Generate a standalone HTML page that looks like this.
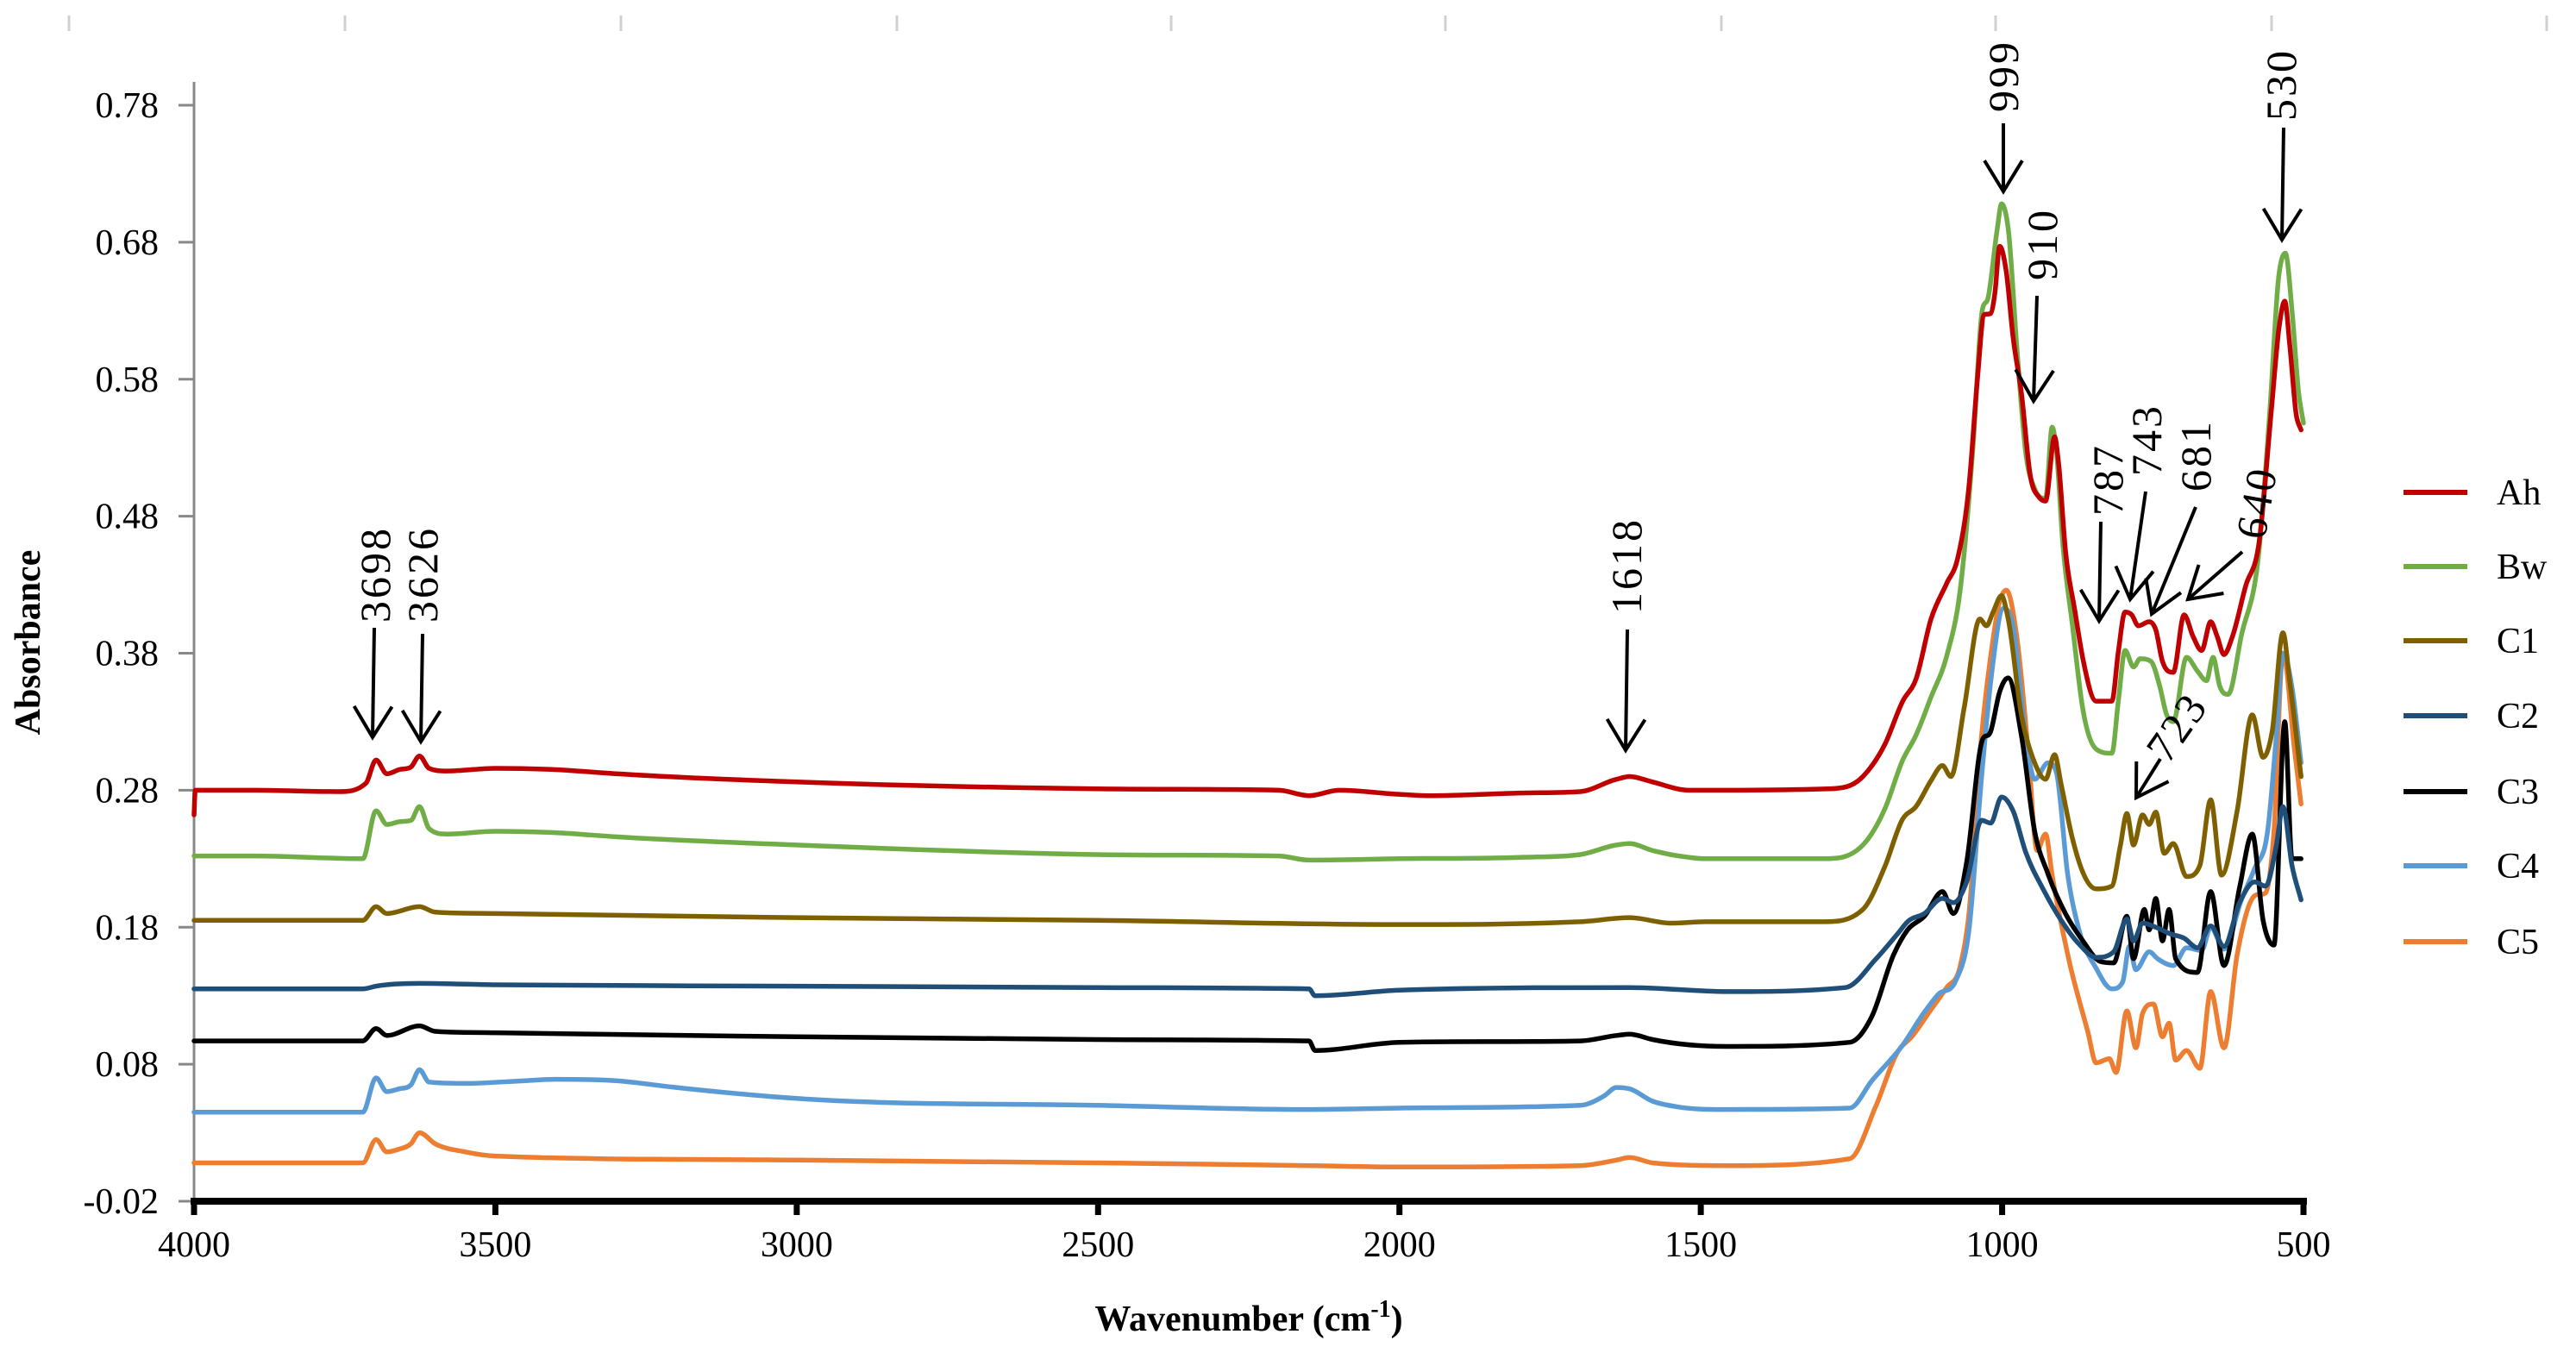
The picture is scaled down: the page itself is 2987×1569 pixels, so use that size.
<!DOCTYPE html>
<html><head><meta charset="utf-8"><style>
html,body{margin:0;padding:0;background:#fff;}
svg{display:block;}
text{font-family:"Liberation Serif","Times New Roman",serif;}
</style></head><body>
<svg id="chart" width="2987" height="1569" viewBox="0 0 2987 1569" xmlns="http://www.w3.org/2000/svg" font-family="Liberation Serif, serif">
<g id="topmarks"></g>
<g id="axes"></g>
<g id="series"></g>
<g id="annot"></g>
<g id="legend"></g>
</svg>
<script>
const seriesNames = ["Ah","Bw","C1","C2","C3","C4","C5"];
const seriesColors = ["#c00000","#70ad47","#7f6000","#1f4e79","#000000","#5b9bd5","#ed7d31"];
const xTicks = [4000,3500,3000,2500,2000,1500,1000,500];
const yTicks = [-0.02,0.08,0.18,0.28,0.38,0.48,0.58,0.68,0.78];
const yTickLabels = ["-0.02","0.08","0.18","0.28","0.38","0.48","0.58","0.68","0.78"];

const wnAh = [4000,3998,3900,3760,3715,3698,3680,3660,3640,3626,3610,3580,3500,3400,3300,3000,2500,2200,2150,2100,2000,1950,1800,1700,1640,1618,1580,1520,1493,1289,1231,1194,1165,1143,1118,1092,1074,1055,1041,1030,1019,1012,1004,993,982,968,953,939,928,913,906,895,880,866,844,818,807,796,785,774,756,745,734,716,698,683,669,654,643,632,618,596,574,552,541,531,523,512,504];
const abAh = [0.262,0.280,0.280,0.279,0.285,0.302,0.292,0.295,0.297,0.305,0.296,0.294,0.296,0.295,0.292,0.286,0.281,0.280,0.276,0.280,0.277,0.276,0.278,0.279,0.288,0.290,0.286,0.280,0.280,0.281,0.290,0.314,0.345,0.361,0.405,0.431,0.449,0.502,0.580,0.627,0.628,0.643,0.677,0.658,0.611,0.570,0.509,0.494,0.491,0.538,0.517,0.455,0.413,0.376,0.345,0.345,0.382,0.410,0.408,0.400,0.403,0.397,0.374,0.366,0.408,0.392,0.382,0.403,0.392,0.379,0.392,0.429,0.460,0.564,0.616,0.637,0.606,0.554,0.543];

const wnBw = [4000,3900,3720,3698,3680,3660,3640,3626,3610,3580,3500,3400,3300,3000,2500,2200,2150,2000,1800,1700,1640,1618,1580,1520,1493,1296,1231,1194,1165,1143,1118,1092,1070,1048,1034,1023,1008,1001,990,975,961,946,928,917,910,899,884,866,844,818,807,796,782,771,753,738,727,716,694,676,661,650,639,625,603,574,556,541,530,519,508,500];
const abBw = [0.232,0.232,0.230,0.265,0.255,0.257,0.258,0.268,0.252,0.248,0.250,0.249,0.246,0.240,0.233,0.232,0.229,0.230,0.231,0.233,0.240,0.241,0.236,0.231,0.230,0.230,0.240,0.267,0.302,0.320,0.348,0.378,0.425,0.533,0.627,0.640,0.690,0.708,0.690,0.600,0.527,0.500,0.493,0.545,0.528,0.458,0.403,0.339,0.310,0.307,0.346,0.382,0.370,0.376,0.374,0.355,0.335,0.330,0.377,0.367,0.360,0.377,0.356,0.350,0.393,0.454,0.556,0.655,0.672,0.630,0.570,0.548];

const wnC1 = [4000,3720,3698,3680,3626,3600,3500,3000,2500,2000,1700,1618,1550,1493,1296,1231,1194,1165,1143,1118,1099,1085,1063,1037,1026,1015,1001,990,968,946,928,913,902,884,866,844,818,804,793,782,767,756,745,731,716,694,672,654,636,610,585,567,552,534,523,504];
const abC1 = [0.185,0.185,0.195,0.190,0.195,0.191,0.190,0.187,0.185,0.182,0.184,0.187,0.183,0.184,0.184,0.193,0.225,0.259,0.268,0.287,0.298,0.290,0.340,0.405,0.400,0.410,0.422,0.405,0.335,0.300,0.288,0.306,0.284,0.246,0.220,0.208,0.210,0.239,0.263,0.240,0.262,0.255,0.264,0.234,0.241,0.217,0.225,0.273,0.218,0.265,0.335,0.304,0.323,0.395,0.360,0.290];

const wnC2 = [4000,3720,3698,3626,3500,3000,2500,2150,2140,2000,1618,1457,1260,1209,1172,1157,1129,1099,1081,1059,1034,1019,1001,982,961,931,902,873,844,815,793,782,767,745,720,698,676,654,632,606,581,563,545,534,519,504];
const abC2 = [0.135,0.135,0.137,0.139,0.138,0.137,0.136,0.135,0.130,0.134,0.136,0.133,0.136,0.157,0.176,0.184,0.190,0.201,0.198,0.213,0.258,0.256,0.275,0.265,0.235,0.207,0.185,0.168,0.158,0.162,0.186,0.170,0.183,0.180,0.175,0.172,0.165,0.181,0.166,0.198,0.213,0.210,0.240,0.268,0.225,0.200];

const wnC3 = [4000,3720,3698,3680,3626,3600,3500,3000,2500,2150,2140,2000,1700,1640,1618,1580,1457,1253,1216,1180,1157,1129,1099,1081,1059,1034,1019,1004,990,968,946,924,895,866,837,815,793,782,764,756,745,734,723,712,676,654,632,606,585,567,549,531,519,504];
const abC3 = [0.097,0.097,0.106,0.101,0.108,0.104,0.103,0.100,0.098,0.097,0.090,0.096,0.097,0.101,0.102,0.098,0.093,0.096,0.115,0.160,0.178,0.188,0.206,0.190,0.227,0.315,0.323,0.352,0.362,0.320,0.250,0.219,0.190,0.170,0.155,0.154,0.188,0.157,0.193,0.178,0.201,0.170,0.193,0.157,0.147,0.206,0.152,0.209,0.248,0.185,0.167,0.330,0.230,0.230];

const wnC4 = [4000,3720,3698,3680,3660,3640,3626,3610,3550,3450,3400,3300,3200,3000,2500,2150,2000,1700,1660,1640,1618,1580,1540,1457,1253,1216,1165,1129,1106,1077,1055,1034,1019,997,982,961,946,924,910,891,873,844,818,800,789,778,756,742,716,694,669,654,632,603,581,559,545,534,519,504];
const abC4 = [0.045,0.045,0.070,0.060,0.062,0.065,0.076,0.067,0.066,0.068,0.069,0.068,0.063,0.055,0.050,0.047,0.048,0.050,0.057,0.063,0.062,0.053,0.049,0.047,0.048,0.068,0.094,0.118,0.131,0.141,0.178,0.290,0.359,0.413,0.400,0.320,0.288,0.300,0.293,0.218,0.179,0.150,0.135,0.140,0.166,0.149,0.162,0.157,0.152,0.165,0.163,0.180,0.164,0.200,0.223,0.252,0.320,0.380,0.355,0.300];

const wnC5 = [4000,3720,3698,3680,3660,3640,3626,3600,3550,3500,3000,2500,2150,2000,1700,1640,1618,1580,1457,1253,1209,1172,1150,1121,1092,1070,1055,1034,1019,1004,993,975,957,942,928,917,888,858,844,822,811,793,778,767,749,734,723,712,694,672,654,632,610,581,563,549,534,515,504];
const abC5 = [0.008,0.008,0.025,0.016,0.018,0.022,0.030,0.022,0.016,0.013,0.010,0.008,0.006,0.005,0.006,0.010,0.012,0.008,0.006,0.011,0.050,0.090,0.100,0.118,0.136,0.151,0.190,0.320,0.378,0.418,0.426,0.390,0.310,0.236,0.248,0.218,0.154,0.104,0.081,0.084,0.074,0.119,0.092,0.117,0.124,0.100,0.110,0.083,0.090,0.077,0.133,0.092,0.160,0.203,0.205,0.250,0.380,0.310,0.270];

const seriesWn = [wnAh,wnBw,wnC1,wnC2,wnC3,wnC4,wnC5];
const seriesAb = [abAh,abBw,abC1,abC2,abC3,abC4,abC5];

const NS = "http://www.w3.org/2000/svg";
const X0=225, X1=2671, Y0=1393, Y1=122;
const FONT = '"Liberation Serif", serif';
const xScale = wn => X0 + (4000-wn)/3500*(X1-X0);
const yScale = a => Y0 - (a+0.02)/0.8*(Y0-Y1);
function mk(tag, attrs, parent, text){
  const e=document.createElementNS(NS,tag);
  for(const k in attrs) e.setAttribute(k,attrs[k]);
  if(tag==='text') e.setAttribute('font-family',FONT);
  if(text!==undefined) e.textContent=text;
  parent.appendChild(e); return e;
}

const tm=document.getElementById('topmarks');
[80,400,720,1040,1358,1676,1996,2314,2634,2953].forEach(x=>{
  const l=mk('line',{x1:x,y1:18,x2:x,y2:36,stroke:'#d0d0d0','stroke-width':3},tm);
  
  
});

const ax=document.getElementById('axes');
const yl=mk('line',{x1:X0,y1:95,x2:X0,y2:Y0,stroke:'#888','stroke-width':3},ax);


yTicks.forEach((v,i)=>{
  const y=yScale(v);
  const t=mk('line',{x1:X0-18,y1:y,x2:X0,y2:y,stroke:'#888','stroke-width':3},ax);
  
  
  const lb=mk('text',{x:184,y:y+14,'text-anchor':'end','font-size':42,fill:'#000'},ax,yTickLabels[i]);
  
  
});
const xl=mk('line',{x1:X0-4,y1:Y0,x2:X1+4,y2:Y0,stroke:'#000','stroke-width':8},ax);


xTicks.forEach(v=>{
  const x=xScale(v);
  const t=mk('line',{x1:x,y1:Y0,x2:x,y2:Y0+16,stroke:'#000','stroke-width':7},ax);
  
  
  const lb=mk('text',{x:x,y:1457,'text-anchor':'middle','font-size':42,fill:'#000'},ax,String(v));
  
  
});
const xt=mk('text',{x:1448,y:1543,'text-anchor':'middle','font-size':42,'font-weight':'bold',fill:'#000'},ax);
xt.innerHTML='Wavenumber (cm<tspan font-size="28" dy="-16">-1</tspan><tspan dy="16">)</tspan>';


const ytt=mk('text',{x:0,y:0,transform:'translate(46,745) rotate(-90)','text-anchor':'middle','font-size':42,'font-weight':'bold',fill:'#000'},ax,'Absorbance');



// monotone cubic (x-monotone) path through data points
function monoPath(pts){
  const n=pts.length;
  const m=[], t=[];
  for(let i=0;i<n-1;i++){
    const dx=pts[i+1][0]-pts[i][0];
    m.push(dx>0?(pts[i+1][1]-pts[i][1])/dx:0);
  }
  for(let i=0;i<n;i++){
    if(i===0) t.push(m[0]);
    else if(i===n-1) t.push(m[n-2]);
    else{
      const m0=m[i-1], m1=m[i];
      if(m0*m1<=0) t.push(0);
      else{
        const h0=pts[i][0]-pts[i-1][0], h1=pts[i+1][0]-pts[i][0];
        let v=(m0*h1+m1*h0)/(h0+h1);
        const lim=3*Math.min(Math.abs(m0),Math.abs(m1));
        if(Math.abs(v)>lim) v=Math.sign(v)*lim;
        t.push(v);
      }
    }
  }
  let d='M'+pts[0][0].toFixed(1)+','+pts[0][1].toFixed(1);
  for(let i=0;i<n-1;i++){
    const h=(pts[i+1][0]-pts[i][0])/3;
    d+='C'+(pts[i][0]+h).toFixed(1)+','+(pts[i][1]+t[i]*h).toFixed(1)+' '+(pts[i+1][0]-h).toFixed(1)+','+(pts[i+1][1]-t[i+1]*h).toFixed(1)+' '+pts[i+1][0].toFixed(1)+','+pts[i+1][1].toFixed(1);
  }
  return d;
}
const sg=document.getElementById('series');
for(let s=seriesNames.length-1;s>=0;s--){
  const wn=seriesWn[s], ab=seriesAb[s];
  const pts=wn.map((w,i)=>[xScale(w),yScale(ab[i])]);
  const p=mk('path',{d:monoPath(pts),fill:'none',stroke:seriesColors[s],'stroke-width':5.5,'stroke-linejoin':'round','stroke-linecap':'round'},sg);
  
  
}

const an=document.getElementById('annot');
function arrow(x1,y1,x2,y2,name){
  const g=mk('g',{},an);
  
  
  mk('line',{x1:x1,y1:y1,x2:x2,y2:y2,stroke:'#000','stroke-width':4},g);
  const ang=Math.atan2(y2-y1,x2-x1), L=42, sp=0.55;
  const a1=ang+Math.PI-sp, a2=ang+Math.PI+sp;
  mk('polyline',{points:`${x2+L*Math.cos(a1)},${y2+L*Math.sin(a1)} ${x2},${y2} ${x2+L*Math.cos(a2)},${y2+L*Math.sin(a2)}`,fill:'none',stroke:'#000','stroke-width':4},g);
}
function label(x,y,txt,rot,name){
  const t=mk('text',{x:0,y:0,transform:`translate(${x},${y}) rotate(${rot})`,'font-size':50,fill:'#000','letter-spacing':'3'},an,txt);
  
  
}
label(452,722,'3698',-90,'label-3698'); arrow(434,728,432,855,'arrow-3698');
label(507,722,'3626',-90,'label-3626'); arrow(490,735,488,860,'arrow-3626');
label(1903,712,'1618',-90,'label-1618'); arrow(1887,730,1885,870,'arrow-1618');
label(2340,130,'999',-90,'label-999'); arrow(2323,143,2323,222,'arrow-999');
label(2385,325,'910',-90,'label-910'); arrow(2362,343,2358,465,'arrow-910');
label(2461,598,'787',-90,'label-787'); arrow(2436,605,2434,720,'arrow-787');
label(2506,552,'743',-90,'label-743'); arrow(2488,570,2470,695,'arrow-743');
label(2563,570,'681',-90,'label-681'); arrow(2546,588,2495,712,'arrow-681');
label(2626,627,'640',-80,'label-640'); arrow(2600,640,2537,695,'arrow-640');
label(2514,887,'723',-55,'label-723'); arrow(2505,880,2477,925,'arrow-723');
label(2662,140,'530',-90,'label-530'); arrow(2648,148,2646,278,'arrow-530');

const lg=document.getElementById('legend');
const legY=[571,657,743,830,918,1004,1092];
seriesNames.forEach((n,i)=>{
  const g=mk('g',{},lg);
  
  
  mk('line',{x1:2787,y1:legY[i],x2:2861,y2:legY[i],stroke:seriesColors[i],'stroke-width':6},g);
  mk('text',{x:2895,y:legY[i]+14,'font-size':42,fill:'#000'},g,n);
});
</script>
</body></html>
